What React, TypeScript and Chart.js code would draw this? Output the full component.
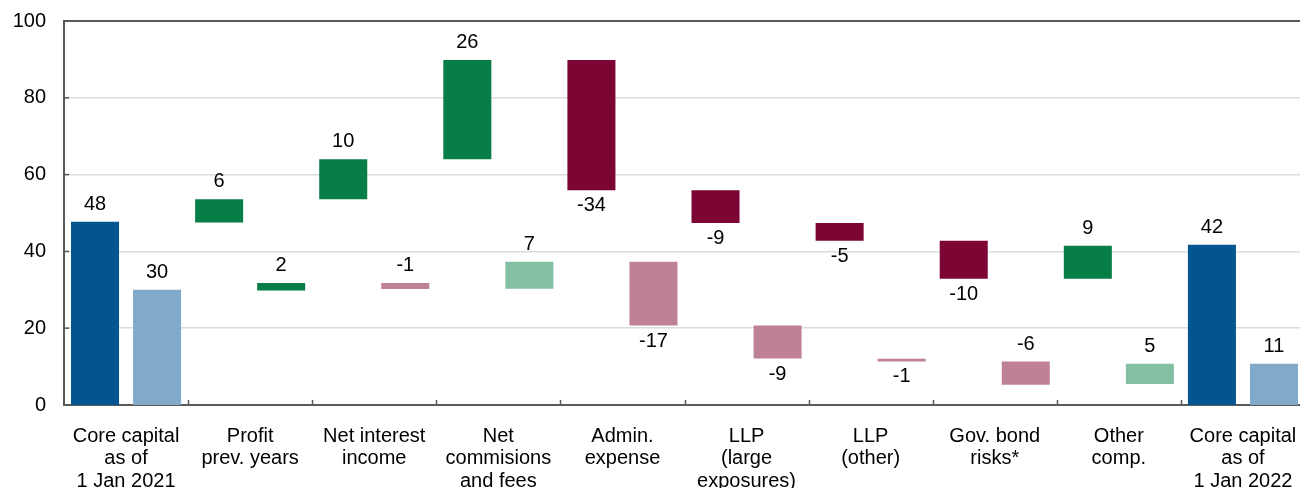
import { useEffect, useRef } from "react";
import { Chart, registerables } from "chart.js";

Chart.register(...registerables);

const categories: string[][] = [
  ["Core capital", "as of", "1 Jan 2021"],
  ["Profit", "prev. years"],
  ["Net interest", "income"],
  ["Net", "commisions", "and fees"],
  ["Admin.", "expense"],
  ["LLP", "(large", "exposures)"],
  ["LLP", "(other)"],
  ["Gov. bond", "risks*"],
  ["Other", "comp."],
  ["Core capital", "as of", "1 Jan 2022"],
];

// Series A (dark colours): displayed values and bar ranges
const valuesA = [48, 6, 10, 26, -34, -9, -5, -10, 9, 42];
const lowA = [0, 47.5, 53.6, 64.0, 55.9, 47.4, 42.75, 32.9, 32.9, 0];
const highA = [47.7, 53.6, 64.0, 89.85, 89.85, 55.9, 47.4, 42.75, 41.5, 41.7];
const labelSideA = ["above", "above", "above", "above", "below", "below", "below", "below", "above", "above"];

// Series B (light colours): displayed values and bar ranges
const valuesB = [30, 2, -1, 7, -17, -9, -1, -6, 5, 11];
const lowB = [0, 29.8, 30.2, 30.3, 20.7, 12.1, 11.35, 5.3, 5.5, 0];
const highB = [30.0, 31.75, 31.75, 37.3, 37.3, 20.7, 12.05, 11.3, 10.75, 10.75];
const labelSideB = ["above", "above", "above", "above", "below", "below", "below", "above", "above", "above"];

const yTicks = [0, 20, 40, 60, 80, 100];

const BLUE = "#02558F";
const GREEN = "#077D48";
const RED = "#7D0533";
const LIGHT_BLUE = "#80A9CA";
const LIGHT_GREEN = "#83C0A3";
const PINK = "#BF8197";

const colorsA = [BLUE, GREEN, GREEN, GREEN, RED, RED, RED, RED, GREEN, BLUE];
const colorsB = [LIGHT_BLUE, GREEN, PINK, LIGHT_GREEN, PINK, PINK, PINK, PINK, LIGHT_GREEN, LIGHT_BLUE];

const FONT = "'Liberation Sans', Arial, sans-serif";
const AXIS = "#595959";

const labelPlugin = {
  id: "waterfallLabels",
  afterDatasetsDraw(chart: any) {
    const { ctx, scales } = chart;
    const y = scales.y;
    const x = scales.x;
    const area = chart.chartArea;
    ctx.save();
    // inner tick marks on x axis (between categories)
    ctx.strokeStyle = AXIS;
    ctx.lineWidth = 1.5;
    for (let i = 1; i < categories.length; i++) {
      const px = Math.round((x.getPixelForValue(i - 1) + x.getPixelForValue(i)) / 2) + 0.5;
      ctx.beginPath();
      ctx.moveTo(px, area.bottom);
      ctx.lineTo(px, area.bottom - 5);
      ctx.stroke();
    }
    // inner tick marks on y axis
    for (const t of yTicks) {
      if (t === 0) continue;
      const py = y.getPixelForValue(t);
      ctx.beginPath();
      ctx.moveTo(area.left, py);
      ctx.lineTo(area.left + 5, py);
      ctx.stroke();
    }
    // value labels
    ctx.font = `20px ${FONT}`;
    ctx.fillStyle = "#000000";
    ctx.textAlign = "center";
    ctx.textBaseline = "alphabetic";
    const sets = [
      { values: valuesA, low: lowA, high: highA, side: labelSideA },
      { values: valuesB, low: lowB, high: highB, side: labelSideB },
    ];
    sets.forEach((s, di) => {
      const meta = chart.getDatasetMeta(di);
      s.values.forEach((v, i) => {
        const el = meta.data[i];
        if (!el) return;
        const top = y.getPixelForValue(Math.max(s.low[i], s.high[i]));
        const bottom = y.getPixelForValue(Math.min(s.low[i], s.high[i]));
        const ty = s.side[i] === "above" ? top - 12 : bottom + 21;
        ctx.fillText(String(v), el.x, ty);
      });
    });
    ctx.restore();
  },
};

export default function App() {
  const canvasRef = useRef<HTMLCanvasElement | null>(null);

  useEffect(() => {
    document.body.style.margin = "0";
    const canvas = canvasRef.current;
    if (!canvas) return;
    const chart = new Chart(canvas, {
      type: "bar",
      data: {
        labels: categories,
        datasets: [
          {
            label: "A",
            data: lowA.map((l, i) => [l, highA[i]]) as any,
            backgroundColor: colorsA,
            borderWidth: 0,
            barPercentage: 0.774,
            categoryPercentage: 1.0,
          },
          {
            label: "B",
            data: lowB.map((l, i) => [l, highB[i]]) as any,
            backgroundColor: colorsB,
            borderWidth: 0,
            barPercentage: 0.774,
            categoryPercentage: 1.0,
          },
        ],
      },
      options: {
        animation: false,
        responsive: true,
        maintainAspectRatio: false,
        layout: { padding: { top: 21, right: 0, left: 0, bottom: 0 } },
        plugins: {
          legend: { display: false },
          tooltip: { enabled: false },
        },
        scales: {
          x: {
            grid: { display: false, drawTicks: false },
            border: { display: true, color: AXIS, width: 2 },
            ticks: {
              color: "#000000",
              font: { family: FONT, size: 20, lineHeight: 1.12 },
              padding: 20,
              maxRotation: 0,
              autoSkip: false,
            },
            afterFit: (scale: any) => {
              scale.height = 83;
              scale.paddingLeft = 0;
              scale.paddingRight = 0;
            },
          },
          y: {
            min: 0,
            max: 100,
            afterBuildTicks: (scale: any) => {
              scale.ticks = yTicks.map((v) => ({ value: v }));
            },
            grid: {
              drawTicks: false,
              color: (c: any) => (c.tick && c.tick.value === 100 ? AXIS : "#DADDDD"),
              lineWidth: (c: any) => (c.tick && c.tick.value === 100 ? 2 : c.tick && c.tick.value === 0 ? 0 : 1.5),
            },
            border: { display: true, color: AXIS, width: 2 },
            ticks: {
              color: "#000000",
              font: { family: FONT, size: 20 },
              padding: 18,
            },
            afterFit: (scale: any) => {
              scale.width = 64;
              scale.paddingTop = 0;
              scale.paddingBottom = 0;
            },
          },
        },
      },
      plugins: [labelPlugin],
    });
    return () => chart.destroy();
  }, []);

  return (
    <div style={{ width: 1300, height: 488, overflow: "hidden", position: "relative" }}>
      <div style={{ width: 1305, height: 488, position: "relative" }}>
        <canvas ref={canvasRef} />
      </div>
    </div>
  );
}
